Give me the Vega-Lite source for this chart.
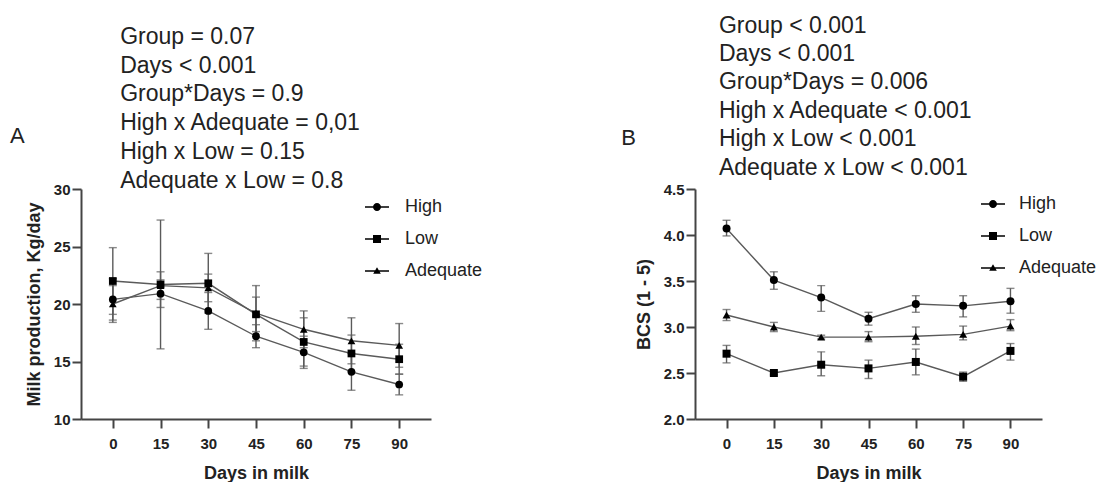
{
  "$schema": "https://vega.github.io/schema/vega-lite/v6.json",
  "background": "white",
  "padding": {"left": 10, "top": 14, "right": 0, "bottom": 0},
  "spacing": 138,
  "datasets": {
    "milk": [
      {"group": "High", "day": 0, "mean": 20.4, "lo": 18.6, "hi": 22.2},
      {"group": "Low", "day": 0, "mean": 22.0, "lo": 19.1, "hi": 24.9},
      {"group": "Adequate", "day": 0, "mean": 20.0, "lo": 18.4, "hi": 21.6},
      {"group": "High", "day": 15, "mean": 20.9, "lo": 19.7, "hi": 22.1},
      {"group": "Low", "day": 15, "mean": 21.7, "lo": 16.1, "hi": 27.3},
      {"group": "Adequate", "day": 15, "mean": 21.6, "lo": 20.4, "hi": 22.8},
      {"group": "High", "day": 30, "mean": 19.4, "lo": 17.8, "hi": 21.0},
      {"group": "Low", "day": 30, "mean": 21.8, "lo": 19.2, "hi": 24.4},
      {"group": "Adequate", "day": 30, "mean": 21.4, "lo": 20.2, "hi": 22.6},
      {"group": "High", "day": 45, "mean": 17.2, "lo": 16.2, "hi": 18.2},
      {"group": "Low", "day": 45, "mean": 19.1, "lo": 17.6, "hi": 20.6},
      {"group": "Adequate", "day": 45, "mean": 19.2, "lo": 16.8, "hi": 21.6},
      {"group": "High", "day": 60, "mean": 15.8, "lo": 14.4, "hi": 17.2},
      {"group": "Low", "day": 60, "mean": 16.7, "lo": 14.6, "hi": 18.8},
      {"group": "Adequate", "day": 60, "mean": 17.8, "lo": 16.2, "hi": 19.4},
      {"group": "High", "day": 75, "mean": 14.1, "lo": 12.5, "hi": 15.7},
      {"group": "Low", "day": 75, "mean": 15.7, "lo": 14.1, "hi": 17.3},
      {"group": "Adequate", "day": 75, "mean": 16.8, "lo": 14.8, "hi": 18.8},
      {"group": "High", "day": 90, "mean": 13.0, "lo": 12.1, "hi": 13.9},
      {"group": "Low", "day": 90, "mean": 15.2, "lo": 13.9, "hi": 16.5},
      {"group": "Adequate", "day": 90, "mean": 16.4, "lo": 14.5, "hi": 18.3}
    ],
    "bcs": [
      {"group": "High", "day": 0, "mean": 4.07, "lo": 3.99, "hi": 4.16},
      {"group": "Low", "day": 0, "mean": 2.71, "lo": 2.61, "hi": 2.80},
      {"group": "Adequate", "day": 0, "mean": 3.13, "lo": 3.07, "hi": 3.19},
      {"group": "High", "day": 15, "mean": 3.51, "lo": 3.41, "hi": 3.60},
      {"group": "Low", "day": 15, "mean": 2.50, "lo": 2.48, "hi": 2.52},
      {"group": "Adequate", "day": 15, "mean": 3.00, "lo": 2.95, "hi": 3.05},
      {"group": "High", "day": 30, "mean": 3.32, "lo": 3.17, "hi": 3.45},
      {"group": "Low", "day": 30, "mean": 2.59, "lo": 2.47, "hi": 2.73},
      {"group": "Adequate", "day": 30, "mean": 2.89, "lo": 2.87, "hi": 2.91},
      {"group": "High", "day": 45, "mean": 3.09, "lo": 3.02, "hi": 3.16},
      {"group": "Low", "day": 45, "mean": 2.55, "lo": 2.44, "hi": 2.64},
      {"group": "Adequate", "day": 45, "mean": 2.89, "lo": 2.84, "hi": 2.95},
      {"group": "High", "day": 60, "mean": 3.25, "lo": 3.16, "hi": 3.34},
      {"group": "Low", "day": 60, "mean": 2.62, "lo": 2.48, "hi": 2.76},
      {"group": "Adequate", "day": 60, "mean": 2.90, "lo": 2.81, "hi": 3.00},
      {"group": "High", "day": 75, "mean": 3.23, "lo": 3.11, "hi": 3.34},
      {"group": "Low", "day": 75, "mean": 2.46, "lo": 2.41, "hi": 2.51},
      {"group": "Adequate", "day": 75, "mean": 2.92, "lo": 2.86, "hi": 3.01},
      {"group": "High", "day": 90, "mean": 3.28, "lo": 3.15, "hi": 3.42},
      {"group": "Low", "day": 90, "mean": 2.74, "lo": 2.64, "hi": 2.82},
      {"group": "Adequate", "day": 90, "mean": 3.01, "lo": 2.96, "hi": 3.08}
    ]
  },
  "resolve": {"scale": {"shape": "independent"}, "legend": {"shape": "independent"}},
  "hconcat": [
    {
      "width": 350,
      "height": 230,
      "data": {"name": "milk"},
      "resolve": {"scale": {"shape": "independent"}, "legend": {"shape": "independent"}},
      "layer": [
        {
          "mark": {"type": "line", "color": "#5a5a5a", "strokeWidth": 1.4},
          "encoding": {
            "x": {"field": "day", "type": "quantitative", "title": "Days in milk", "scale": {"domain": [-10, 100], "nice": false, "zero": false}, "axis": {"values": [0, 15, 30, 45, 60, 75, 90]}},
            "y": {"field": "mean", "type": "quantitative", "title": "Milk production, Kg/day", "scale": {"domain": [10, 30], "nice": false, "zero": false}, "axis": {"values": [10, 15, 20, 25, 30]}},
            "detail": {"field": "group"}
          }
        },
        {
          "mark": {"type": "errorbar", "ticks": {"size": 8, "color": "#5a5a5a", "thickness": 1.4}, "rule": {"color": "#5a5a5a", "strokeWidth": 1.4}},
          "encoding": {
            "x": {"field": "day", "type": "quantitative", "title": "Days in milk"},
            "y": {"field": "lo", "type": "quantitative", "title": "Milk production, Kg/day"},
            "y2": {"field": "hi"},
            "detail": {"field": "group"}
          }
        },
        {
          "mark": {"type": "point", "filled": true, "color": "black", "opacity": 1, "size": 60},
          "encoding": {
            "x": {"field": "day", "type": "quantitative", "title": "Days in milk"},
            "y": {"field": "mean", "type": "quantitative", "title": "Milk production, Kg/day"},
            "shape": {
              "field": "group", "type": "nominal", "legend": null,
              "scale": {"domain": ["High", "Low", "Adequate"], "range": ["circle", "square", "triangle-up"]}
            }
          }
        },
        {
          "mark": {"type": "point", "filled": true, "color": "black", "opacity": 0, "size": 64},
          "encoding": {
            "x": {"field": "day", "type": "quantitative", "title": "Days in milk"},
            "y": {"field": "mean", "type": "quantitative", "title": "Milk production, Kg/day"},
            "shape": {
              "field": "group", "type": "nominal", "title": null,
              "scale": {"domain": ["High", "Low", "Adequate"], "range": [
                "M-3,-0.16H3V0.16H-3ZM1,0A1,1,0,1,1,-1,0A1,1,0,1,1,1,0Z",
                "M-3,-0.16H3V0.16H-3ZM-1,-1H1V1H-1Z",
                "M-3,-0.16H3V0.16H-3ZM0,-0.95L0.95,0.7H-0.95Z"
              ]},
              "legend": {
                "orient": "none", "legendX": 287, "legendY": 9,
                "symbolSize": 64, "labelOffset": 19, "rowPadding": 14,
                "symbolOpacity": 1, "symbolFillColor": "black", "symbolStrokeWidth": 0,
                "labelFont": "Liberation Sans", "labelFontSize": 18, "labelColor": "#222"
              }
            }
          }
        },
        {
          "data": {"values": [{"label": "A"}]},
          "mark": {"type": "text", "font": "Liberation Sans", "fontSize": 22, "align": "left", "baseline": "alphabetic", "color": "#222"},
          "encoding": {
            "text": {"field": "label"},
            "x": {"datum": -32.3, "type": "quantitative"},
            "y": {"datum": 34.0, "type": "quantitative"}
          }
        },
        {
          "data": {"values": [{"label": "stats"}]},
          "mark": {"type": "text", "text": ["Group = 0.07", "Days < 0.001", "Group*Days = 0.9", "High x Adequate = 0,01", "High x Low = 0.15", "Adequate x Low = 0.8"], "font": "Liberation Sans", "fontSize": 23, "lineHeight": 28.7, "align": "left", "baseline": "alphabetic", "color": "#222"},
          "encoding": {
            "x": {"datum": 2.3, "type": "quantitative"},
            "y": {"datum": 42.6, "type": "quantitative"}
          }
        }
      ]
    },
    {
      "width": 347,
      "height": 230,
      "data": {"name": "bcs"},
      "resolve": {"scale": {"shape": "independent"}, "legend": {"shape": "independent"}},
      "layer": [
        {
          "mark": {"type": "line", "color": "#5a5a5a", "strokeWidth": 1.4},
          "encoding": {
            "x": {"field": "day", "type": "quantitative", "title": "Days in milk", "scale": {"domain": [-10, 100], "nice": false, "zero": false}, "axis": {"values": [0, 15, 30, 45, 60, 75, 90]}},
            "y": {"field": "mean", "type": "quantitative", "title": "BCS (1 - 5)", "scale": {"domain": [2, 4.5], "nice": false, "zero": false}, "axis": {"values": [2, 2.5, 3, 3.5, 4, 4.5], "format": ".1f"}},
            "detail": {"field": "group"}
          }
        },
        {
          "mark": {"type": "errorbar", "ticks": {"size": 8, "color": "#5a5a5a", "thickness": 1.4}, "rule": {"color": "#5a5a5a", "strokeWidth": 1.4}},
          "encoding": {
            "x": {"field": "day", "type": "quantitative", "title": "Days in milk"},
            "y": {"field": "lo", "type": "quantitative", "title": "BCS (1 - 5)"},
            "y2": {"field": "hi"},
            "detail": {"field": "group"}
          }
        },
        {
          "mark": {"type": "point", "filled": true, "color": "black", "opacity": 1, "size": 64},
          "encoding": {
            "x": {"field": "day", "type": "quantitative", "title": "Days in milk"},
            "y": {"field": "mean", "type": "quantitative", "title": "BCS (1 - 5)"},
            "shape": {
              "field": "group", "type": "nominal", "legend": null,
              "scale": {"domain": ["High", "Low", "Adequate"], "range": ["circle", "square", "triangle-up"]}
            }
          }
        },
        {
          "mark": {"type": "point", "filled": true, "color": "black", "opacity": 0, "size": 64},
          "encoding": {
            "x": {"field": "day", "type": "quantitative", "title": "Days in milk"},
            "y": {"field": "mean", "type": "quantitative", "title": "BCS (1 - 5)"},
            "shape": {
              "field": "group", "type": "nominal", "title": null,
              "scale": {"domain": ["High", "Low", "Adequate"], "range": [
                "M-3,-0.16H3V0.16H-3ZM1,0A1,1,0,1,1,-1,0A1,1,0,1,1,1,0Z",
                "M-3,-0.16H3V0.16H-3ZM-1,-1H1V1H-1Z",
                "M-3,-0.16H3V0.16H-3ZM0,-0.95L0.95,0.7H-0.95Z"
              ]},
              "legend": {
                "orient": "none", "legendX": 289, "legendY": 6,
                "symbolSize": 64, "labelOffset": 17, "rowPadding": 14,
                "symbolOpacity": 1, "symbolFillColor": "black", "symbolStrokeWidth": 0,
                "labelFont": "Liberation Sans", "labelFontSize": 18, "labelColor": "#222"
              }
            }
          }
        },
        {
          "data": {"values": [{"label": "B"}]},
          "mark": {"type": "text", "font": "Liberation Sans", "fontSize": 22, "align": "left", "baseline": "alphabetic", "color": "#222"},
          "encoding": {
            "text": {"field": "label"},
            "x": {"datum": -33.4, "type": "quantitative"},
            "y": {"datum": 4.98, "type": "quantitative"}
          }
        },
        {
          "data": {"values": [{"label": "stats"}]},
          "mark": {"type": "text", "text": ["Group < 0.001", "Days < 0.001", "Group*Days = 0.006", "High x Adequate < 0.001", "High x Low < 0.001", "Adequate x Low < 0.001"], "font": "Liberation Sans", "fontSize": 23, "lineHeight": 28.4, "align": "left", "baseline": "alphabetic", "color": "#222"},
          "encoding": {
            "x": {"datum": -2.4, "type": "quantitative"},
            "y": {"datum": 6.2, "type": "quantitative"}
          }
        }
      ]
    }
  ],
  "config": {
    "view": {"stroke": null},
    "axis": {
      "grid": false,
      "domainColor": "#444", "domainWidth": 2,
      "tickColor": "#444", "tickWidth": 2, "tickSize": 9,
      "labelFont": "Liberation Sans", "labelFontWeight": "bold", "labelFontSize": 15, "labelColor": "#222",
      "titleFont": "Liberation Sans", "titleFontWeight": "bold", "titleFontSize": 18, "titleColor": "#222"
    },
    "axisX": {"labelPadding": 8, "titlePadding": 13, "labelFlush": false},
    "axisY": {"labelPadding": 2, "titlePadding": 10, "labelFlush": false}
  }
}
